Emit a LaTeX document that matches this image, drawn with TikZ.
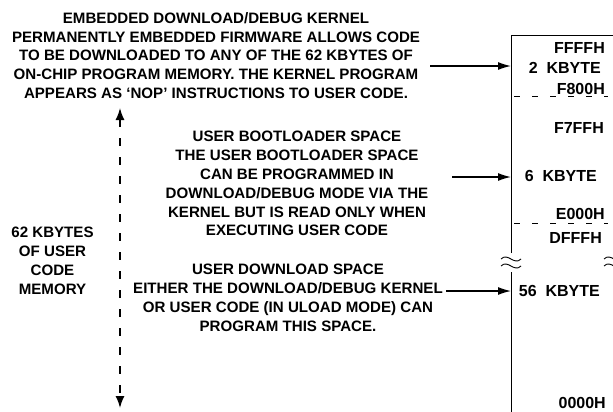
\documentclass[tikz,border=0pt]{standalone}
\usepackage{fontspec}
\setmainfont{Liberation Sans}
\usetikzlibrary{arrows.meta}
\begin{document}
\begin{tikzpicture}[x=1bp,y=-1bp,
  txt/.style={font=\fontsize{15.1bp}{18.9bp}\selectfont\bfseries, align=center, inner sep=0pt},
  lbl/.style={font=\fontsize{16bp}{19bp}\selectfont\bfseries, inner sep=0pt, anchor=base east},
  ptr/.style={-{Latex[length=13bp,width=8bp]}, line width=1.3bp},
  span/.style={{Latex[length=12bp,width=9bp]}-{Latex[length=12bp,width=9bp]}, line width=1.5bp, dash pattern=on 8bp off 11bp},
  mem/.style={line width=0.9bp},
  sep/.style={line width=0.9bp, dash pattern=on 6bp off 12bp},
  brk/.style={line width=0.9bp}]
\useasboundingbox (0,0) rectangle (613,411);
% memory block
\coordinate (tl) at (511,35);
\coordinate (tr) at (614,35);
\draw[mem] (511,253) -- (tl) -- (tr) -- (614,253);
\draw[mem] (511,272) -- (511,420);
\draw[mem] (614,272) -- (614,420);
\foreach \bx in {511,614}{
  \draw[brk] (\bx-10,259) .. controls (\bx-3,252) and (\bx+3,266) .. (\bx+10,259);
  \draw[brk] (\bx-10,266) .. controls (\bx-3,259) and (\bx+3,273) .. (\bx+10,266);
}
\draw[sep] (514,96) -- (608,96);
\draw[sep] (514,223) -- (608,223);
% labels
\node[lbl] (ffff) at (605,53.2) {FFFFH};
\node[lbl] (kb2) at (601,73.2) {2\ \ KBYTE};
\node[lbl] (f800) at (605,94) {F800H};
\node[lbl] (f7ff) at (604,133.2) {F7FFH};
\node[lbl] (kb6) at (597,181.8) {6\ \ KBYTE};
\node[lbl] (e000) at (605,219.8) {E000H};
\node[lbl] (dfff) at (602,243.2) {DFFFH};
\node[lbl] (kb56) at (600,296.8) {56\ \ KBYTE};
\node[lbl] (zero) at (606,408.3) {0000H};
% text blocks
\node[txt] (kern) at (216,55.5) {EMBEDDED DOWNLOAD/DEBUG KERNEL\\PERMANENTLY EMBEDDED FIRMWARE ALLOWS CODE\\TO BE DOWNLOADED TO ANY OF THE 62 KBYTES OF\\ON-CHIP PROGRAM MEMORY. THE KERNEL PROGRAM\\APPEARS AS `NOP' INSTRUCTIONS TO USER CODE.};
\node[txt] (boot) at (297,183.5) {USER BOOTLOADER SPACE\\THE USER BOOTLOADER SPACE\\CAN BE PROGRAMMED IN\\DOWNLOAD/DEBUG MODE VIA THE\\KERNEL BUT IS READ ONLY WHEN\\EXECUTING USER CODE};
\node[txt] (dl) at (288,297.5) {USER DOWNLOAD SPACE\\EITHER THE DOWNLOAD/DEBUG KERNEL\\OR USER CODE (IN ULOAD MODE) CAN\\PROGRAM THIS SPACE.};
\node[txt] (tot) at (52.5,260.5) {62 KBYTES\\OF USER\\CODE\\MEMORY};
% arrows
\coordinate (a1s) at (430,66);  \coordinate (a1e) at (511,66);
\coordinate (a2s) at (452,177); \coordinate (a2e) at (511,177);
\coordinate (a3s) at (446,291); \coordinate (a3e) at (511,291);
\draw[ptr] (a1s) -- (a1e);
\draw[ptr] (a2s) -- (a2e);
\draw[ptr] (a3s) -- (a3e);
\coordinate (vt) at (120,108); \coordinate (vb) at (120,408);
\draw[span] (vt) -- (vb);
\end{tikzpicture}
\end{document}
